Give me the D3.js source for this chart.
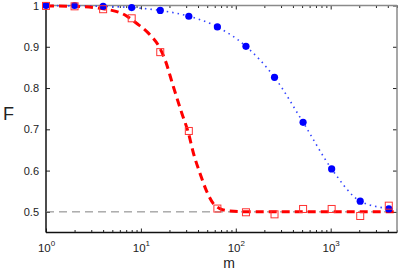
<!DOCTYPE html>
<html lang="en">
<head>
  <meta charset="UTF-8">
  <title>F vs m</title>
  <script src="https://cdnjs.cloudflare.com/ajax/libs/d3/7.8.5/d3.min.js"></script>
  <style>
    body { margin: 0; background: white; }
    svg { display: block; font-family: "Liberation Sans", Arial, sans-serif; }
    .tick text { font-size: 11px; fill: #222; }
  </style>
</head>
<body>
  <script>
    // measured points
    var mValues = [1, 2, 4, 8, 16, 32, 64, 128, 256, 512, 1024, 2048, 4096];
    var blueF = [1.0, 1.0, 0.998, 0.995, 0.988, 0.974, 0.948, 0.901, 0.826, 0.717, 0.604, 0.526, 0.507];
    var redF = [0.999, 0.998, 0.991, 0.969, 0.887, 0.696, 0.508, 0.499, 0.494, 0.507, 0.507, 0.490, 0.515];

    // fitted curves
    var blueFitM = [1, 2, 4, 8, 16, 32, 64, 128, 256, 512, 1024, 2048, 4096, 5000];
    var blueFitF = [1.0, 0.999, 0.998, 0.995, 0.988, 0.974, 0.948, 0.901, 0.826, 0.717, 0.604, 0.526, 0.508, 0.506];
    var redFitM = [1, 2, 4, 6.8, 9, 12, 15.3, 18, 22, 27, 31.7, 35.8, 42, 49.5, 58, 68, 87, 150, 5000];
    var redFitF = [0.999, 0.998, 0.992, 0.977, 0.957, 0.933, 0.903, 0.868, 0.803, 0.739, 0.691, 0.642, 0.593, 0.549, 0.520, 0.508, 0.502, 0.5, 0.5];

    var baseline = 0.5;
    var yTicks = [0.5, 0.6, 0.7, 0.8, 0.9, 1];
    var xMajor = [1, 10, 100, 1000];
    var xDomain = [1, 5000];
    var yDomain = [0.45, 1];

    var w = 398, h = 271;
    var padL = 46, padR = 397, padT = 5.5, padB = 232.5;

    var svg = d3.select("body").append("svg")
      .attr("width", w)
      .attr("height", h);

    var x = d3.scaleLog().domain(xDomain).range([padL, padR]);
    var y = d3.scaleLinear().domain(yDomain).range([padB, padT]);

    var xMinor = [];
    xMajor.forEach(function(d) {
      for (var k = 2; k <= 9; k++) {
        if (d * k <= xDomain[1]) xMinor.push(d * k);
      }
    });

    // ticks, all pointing inward
    function clean(g) { g.select(".domain").remove(); }

    svg.append("g").attr("transform", "translate(0," + padB + ")")
      .call(d3.axisBottom(x).tickValues(xMinor).tickSize(-2.5).tickFormat(""))
      .call(clean);
    svg.append("g").attr("transform", "translate(0," + padT + ")")
      .call(d3.axisTop(x).tickValues(xMinor).tickSize(-2.5).tickFormat(""))
      .call(clean);
    svg.append("g").attr("transform", "translate(0," + padT + ")")
      .call(d3.axisTop(x).tickValues(xMajor).tickSize(-4).tickFormat(""))
      .call(clean);

    var xAxis = svg.append("g").attr("transform", "translate(0," + padB + ")")
      .call(d3.axisBottom(x).tickValues(xMajor).tickSize(-4).tickFormat(""))
      .call(clean);
    xAxis.selectAll(".tick").append("text")
      .attr("y", 19.5)
      .attr("text-anchor", "middle")
      .style("font-size", "11.5px")
      .each(function(d) {
        var t = d3.select(this);
        t.append("tspan").text("10");
        t.append("tspan").attr("dy", -6).attr("font-size", "8px")
          .text(Math.round(Math.log10(d)));
      });

    svg.append("g").attr("transform", "translate(" + padL + ",0)")
      .call(d3.axisLeft(y).tickValues(yTicks).tickSize(-4).tickPadding(7)
        .tickFormat(function(d) { return d3.format("")(d); }))
      .call(clean);
    svg.append("g").attr("transform", "translate(" + padR + ",0)")
      .call(d3.axisRight(y).tickValues(yTicks).tickSize(-4).tickFormat(""))
      .call(clean);

    svg.selectAll(".tick line").attr("stroke", "#222");

    // box
    svg.append("line").attr("x1", padL).attr("x2", padR).attr("y1", padT).attr("y2", padT)
      .attr("stroke", "#8a8a8a").attr("stroke-width", 1.5);
    svg.append("line").attr("x1", padR).attr("x2", padR).attr("y1", padT).attr("y2", padB)
      .attr("stroke", "#8a8a8a").attr("stroke-width", 1.5);
    svg.append("line").attr("x1", padL).attr("x2", padR).attr("y1", padB).attr("y2", padB)
      .attr("stroke", "#111").attr("stroke-width", 1.5);
    svg.append("line").attr("x1", padL).attr("x2", padL).attr("y1", padT).attr("y2", padB)
      .attr("stroke", "#111").attr("stroke-width", 1.5);

    // reference line
    svg.append("line")
      .attr("x1", padL).attr("x2", padR)
      .attr("y1", y(baseline)).attr("y2", y(baseline))
      .attr("stroke", "#808080").attr("stroke-width", 1)
      .attr("stroke-dasharray", "8,5");

    var line = d3.line()
      .x(function(d) { return x(d[0]); })
      .y(function(d) { return y(d[1]); })
      .curve(d3.curveMonotoneX);

    svg.append("path")
      .datum(d3.zip(blueFitM, blueFitF))
      .attr("d", line)
      .attr("fill", "none")
      .attr("stroke", "#3344ff")
      .attr("stroke-width", 1.6)
      .attr("stroke-dasharray", "1.5,4");

    svg.append("path")
      .datum(d3.zip(redFitM, redFitF))
      .attr("d", line)
      .attr("fill", "none")
      .attr("stroke", "#ff0000")
      .attr("stroke-width", 3)
      .attr("stroke-dasharray", "8,5");

    svg.selectAll(".blue-pt")
      .data(d3.zip(mValues, blueF))
      .enter()
      .append("circle")
      .attr("class", "blue-pt")
      .attr("cx", function(d) { return x(d[0]); })
      .attr("cy", function(d) { return y(d[1]); })
      .attr("r", 3.6)
      .attr("fill", "#0000ff");

    svg.selectAll(".red-pt")
      .data(d3.zip(mValues, redF))
      .enter()
      .append("rect")
      .attr("class", "red-pt")
      .attr("x", function(d) { return x(d[0]) - 3.5; })
      .attr("y", function(d) { return y(d[1]) - 3.5; })
      .attr("width", 7)
      .attr("height", 7)
      .attr("fill", "none")
      .attr("stroke", "#ff3333")
      .attr("stroke-width", 1);

    svg.append("text")
      .attr("x", 3).attr("y", 120)
      .attr("font-size", "18px")
      .attr("fill", "#222")
      .text("F");

    svg.append("text")
      .attr("x", 229).attr("y", 267.5)
      .attr("text-anchor", "middle")
      .attr("font-size", "14px")
      .attr("fill", "#222")
      .text("m");
  </script>
</body>
</html>
